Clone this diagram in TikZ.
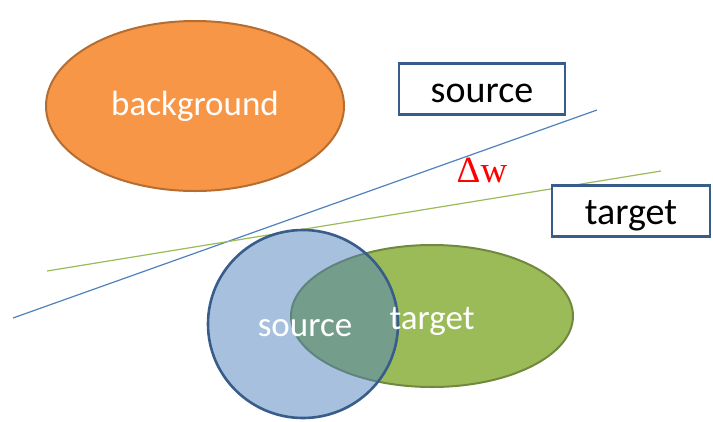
\documentclass[tikz,border=0pt]{standalone}
\usepackage{fontspec}
\setmainfont{Carlito}
\newfontfamily\deltafont{Liberation Serif}
\usetikzlibrary{shapes.geometric}
\definecolor{bgOrange}{HTML}{F79646}
\definecolor{bgOrangeLine}{HTML}{B66D31}
\definecolor{srcBlue}{HTML}{4F81BD}
\definecolor{srcBlueLine}{HTML}{385D8A}
\definecolor{tgtGreen}{HTML}{9BBB59}
\definecolor{tgtGreenLine}{HTML}{71893F}
\tikzset{
    blob/.style={ellipse,inner sep=0pt,line width=2pt,text=white,font=\fontsize{35}{40}\selectfont},
    labelbox/.style={rectangle,draw=srcBlueLine,line width=2.5pt,fill=white,inner sep=0pt,text height=30pt,text depth=4pt,font=\fontsize{38}{44}\selectfont},
    boundary/.style={line width=1.2pt}
}

\begin{document}
\begin{tikzpicture}[x=1pt,y=-1pt]
  \useasboundingbox (0,0) rectangle (713,421);

  % background class
  \node[blob,draw=bgOrangeLine,fill=bgOrange,minimum width=298pt,minimum height=170pt] (background) at (195,106) {background};

  % decision boundaries
  \coordinate (srcStart) at (13,318);
  \coordinate (srcEnd) at (597,110);
  \coordinate (tgtStart) at (47,271);
  \coordinate (tgtEnd) at (661,171);
  \draw[boundary,srcBlue] (srcStart) -- (srcEnd);
  \draw[boundary,tgtGreen] (tgtStart) -- (tgtEnd);

  % source and target domains
  \node[blob,draw=tgtGreenLine,fill=tgtGreen,minimum width=282pt,minimum height=142pt] (targetset) at (432,316) {};
  \node[blob,draw=srcBlueLine,line width=2.6pt,fill=srcBlue,fill opacity=0.5,minimum width=190pt,minimum height=188pt] (sourceset) at (303,324) {};
  \node[text=white,font=\fontsize{35}{40}\selectfont] (sourcetext) at (305,328) {source};
  \node[text=white,font=\fontsize{35}{40}\selectfont] (targettext) at (432,321) {target};

  % boundary labels
  \node[labelbox,minimum width=166pt,minimum height=51pt] (sourcelabel) at (482,89) {source};
  \node[labelbox,minimum width=158pt,minimum height=51pt] (targetlabel) at (631,211) {target};
  \node[text=red,font=\deltafont\fontsize{37}{40}\selectfont] (shift) at (482,170) {Δw};
\end{tikzpicture}
\end{document}
